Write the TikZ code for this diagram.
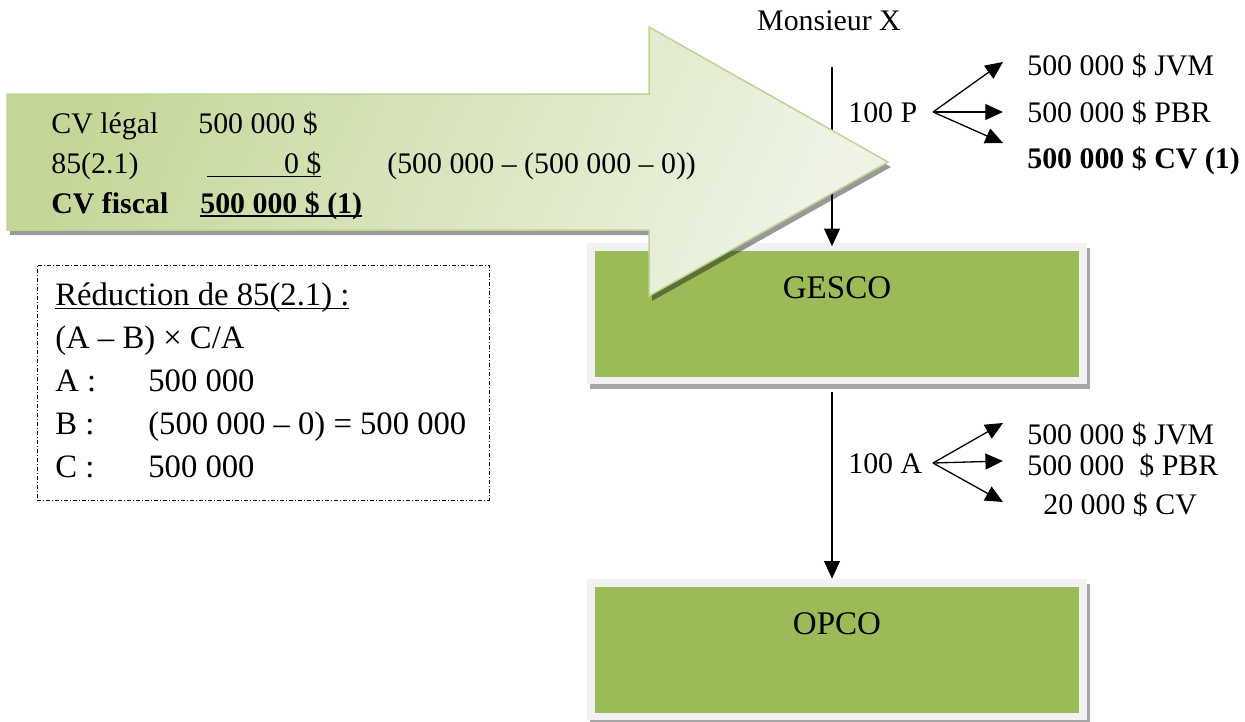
\documentclass[tikz,border=0pt]{standalone}
\usepackage{fontspec}
\setmainfont{Liberation Serif}
\usetikzlibrary{arrows.meta, positioning, shadows}

\definecolor{boxgreen}{RGB}{155,187,89}
\definecolor{boxrim}{RGB}{242,242,242}
\definecolor{arrowdark}{RGB}{196,215,152}
\definecolor{arrowlight}{RGB}{238,243,228}
\definecolor{arrowrim}{RGB}{190,212,148}

\newlength{\px}
\setlength{\px}{0.02cm}
\newcommand{\wordul}[2][0.6pt]{\leavevmode\setbox0\hbox{#2}\rlap{\rule[-2.4pt]{\wd0}{#1}}\box0}

\begin{document}
\begin{tikzpicture}[
  x=0.02cm, y=-0.02cm,
  every node/.style={font=\fontsize{17}{20}\selectfont, inner sep=0pt},
  txt/.style={anchor=base west},
  bigtxt/.style={anchor=base west, font=\fontsize{18.6}{22}\selectfont},
  orgbox/.style={rectangle, fill=boxrim, minimum width=500\px, minimum height=141\px,
                 font=\fontsize{18.8}{22}\selectfont,
                 text height=22\px, text depth=53\px,
                 drop shadow={shadow xshift=3\px, shadow yshift=-5\px, fill=black, opacity=0.35},
                 path picture={\fill[boxgreen]
                   ([shift={(8\px,-8\px)}]path picture bounding box.north west) rectangle
                   ([shift={(-8\px,7\px)}]path picture bounding box.south east);}},
  notebox/.style={rectangle, draw, line width=1\px,
                  dash pattern=on 4\px off 2\px on 1\px off 2\px,
                  minimum width=452\px, minimum height=235\px},
  arr/.style={-{Triangle[length=10pt, width=9pt]}, line width=0.75pt}
]
\useasboundingbox (0,0) rectangle (1245,721);

% companies
\node[orgbox] (gesco) at (837,313.5) {GESCO};
\node[orgbox] (opco)  at (837,649.5) {OPCO};
\node[anchor=base] (mx) at (829,30) {Monsieur X};
\coordinate (xtop) at (832,67);

\draw[arr, shorten >=-2pt] (xtop) -- (xtop |- gesco.north);
\draw[arr] ([yshift=-8\px]gesco.south -| xtop) -- (opco.north -| xtop);

% big arrow
\fill[black, opacity=0.4, shift={(3,5)}]
  (7,94) -- (649,94) -- (649,27) -- (888,162) -- (649,296) -- (649,230) -- (7,230) -- cycle;
\draw[arrowrim, line width=1.5\px, left color=arrowdark, right color=arrowlight, shading angle=65]
  (7,94) -- (649,94) -- (649,27) -- (888,162) -- (649,296) -- (649,230) -- (7,230) -- cycle;

\node[txt] (legal)  at (51,133) {\makebox[147\px][l]{CV légal}500 000 \$};
\node[txt] (ded)    at (51,173) {\makebox[156\px][l]{85(2.1)}\wordul{\makebox[114\px][r]{0 \$}}\hspace{66\px}(500 000 – (500 000 – 0))};
\node[txt] (fiscal) at (51,213) {\bfseries\makebox[149\px][l]{CV fiscal}\wordul[1pt]{500 000 \$ (1)}};

% reduction note
\node[notebox] (note) at (263,382.5) {};
\node[bigtxt] (nt1) at (55,305) {\wordul{Réduction de 85(2.1) :}};
\node[bigtxt] (nt2) at (55,348) {(A – B) × C/A};
\node[bigtxt] (nt3) at (55,391) {\makebox[93\px][l]{A :}500 000};
\node[bigtxt] (nt4) at (55,434) {\makebox[93\px][l]{B :}(500 000 – 0) = 500 000};
\node[bigtxt] (nt5) at (55,477) {\makebox[93\px][l]{C :}500 000};

% shares P
\node[txt] (sp)   at (848,122) {100 P};
\node[txt] (spj)  at (1027,75)  {500 000 \$ JVM};
\node[txt] (spb)  at (1027,122) {500 000 \$ PBR};
\node[txt] (spc)  at (1027,168) {\bfseries 500 000 \$ CV (1)};
\coordinate (pfork) at (933,112);
\draw[arr] (pfork) -- ([shift={(-24\px,13\px)}]spj.base west);
\draw[arr] (pfork) -- ([shift={(-24\px,10\px)}]spb.base west);
\draw[arr] (pfork) -- ([shift={(-24\px,25\px)}]spc.base west);

% shares A
\node[txt] (sa)   at (848,473) {100 A};
\node[txt] (saj)  at (1027,444) {500 000 \$ JVM};
\node[txt] (sab)  at (1027,475) {500 000 \ \$ PBR};
\node[txt] (sac)  at (1043,514) {20 000 \$ CV};
\coordinate (afork) at (933,463);
\draw[arr] (afork) -- ([shift={(-24\px,21\px)}]saj.base west);
\draw[arr] (afork) -- ([shift={(-24\px,14\px)}]sab.base west);
\draw[arr] (afork) -- ([shift={(-40\px,12\px)}]sac.base west);
\end{tikzpicture}
\end{document}
